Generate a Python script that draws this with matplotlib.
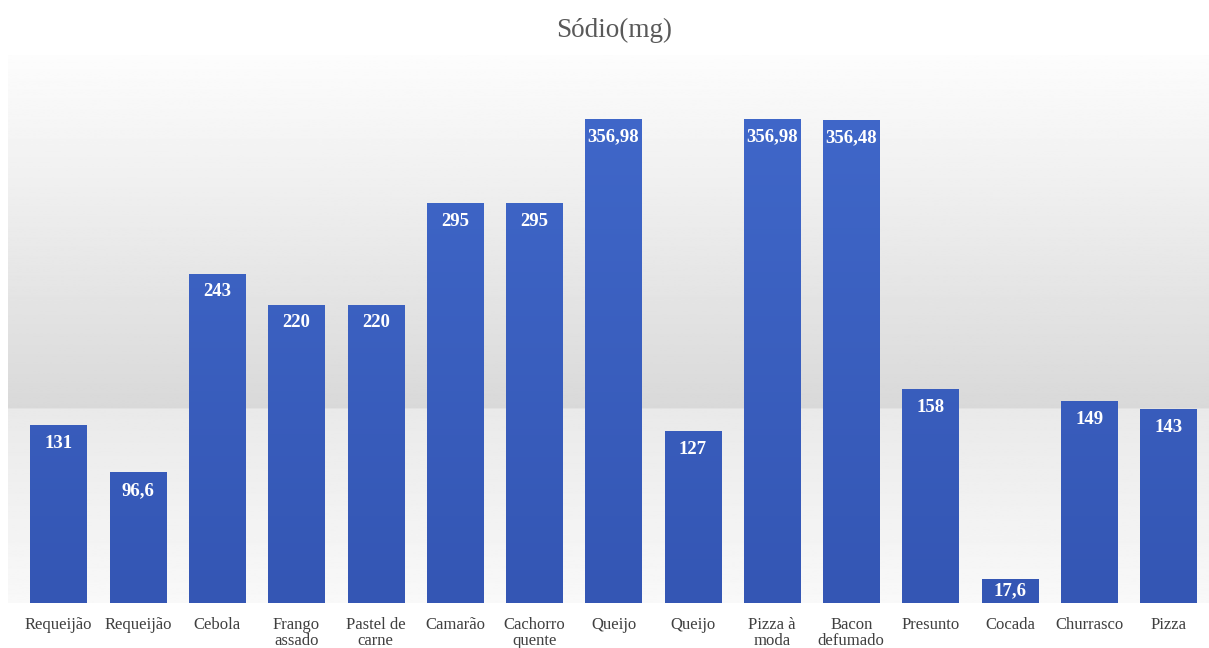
import numpy as np
import matplotlib
matplotlib.use("Agg")
import matplotlib.pyplot as plt
from matplotlib.colors import LinearSegmentedColormap

# Sodium content per food (mg)
categories = ["Requeijão", "Requeijão", "Cebola", "Frango\nassado", "Pastel de\ncarne",
              "Camarão", "Cachorro\nquente", "Queijo", "Queijo", "Pizza à\nmoda",
              "Bacon\ndefumado", "Presunto", "Cocada", "Churrasco", "Pizza"]
values = [131, 96.6, 243, 220, 220, 295, 295, 356.98, 127, 356.98, 356.48, 158, 17.6, 149, 143]
labels = ["131", "96,6", "243", "220", "220", "295", "295", "356,98", "127", "356,98",
          "356,48", "158", "17,6", "149", "143"]

serif = ["Liberation Serif", "DejaVu Serif"]

fig = plt.figure(figsize=(12.09, 6.48), dpi=100)

# background panel with a grey vertical gradient
bg = fig.add_axes([8 / 1209, 45 / 648, 1 - 8 / 1209, 548 / 648])
bg.set_axis_off()
t = np.linspace(0, 1, 400)  # 0 = bottom, 1 = top
split = 195 / 548
grey = np.where(t < split,
                0.975 - 0.06 * (t / split),
                0.85 + 0.14 * ((t - split) / (1 - split)))
grad = np.repeat(grey[:, None], 2, axis=1)
bg.imshow(grad, cmap="gray", vmin=0, vmax=1, aspect="auto", origin="lower",
          extent=[0, 1, 0, 1])
bg.set_xlim(0, 1)
bg.set_ylim(0, 1)

ax = fig.add_axes([19 / 1209, 45 / 648, 1189 / 1209, 543 / 648])
ax.patch.set_alpha(0)
x = np.arange(len(values))
bars = ax.bar(x, values, width=0.71, color="#3a60c0", zorder=2)

# vertical gradient on each bar
bar_cmap = LinearSegmentedColormap.from_list("barblue", ["#3456b4", "#4169cb"])
for b in bars:
    x0, y0 = b.get_x(), b.get_y()
    w, h = b.get_width(), b.get_height()
    im = ax.imshow(np.linspace(0, 1, 100)[:, None], cmap=bar_cmap, aspect="auto",
                   origin="lower", extent=[x0, x0 + w, 0, 400], zorder=3)
    im.set_clip_path(b)

for xi, v, lab in zip(x, values, labels):
    if v < 30:
        # short bar: centre the label inside it
        ax.text(xi, v / 2, lab, ha="center", va="center", color="white",
                fontweight="bold", fontsize=13.5, family=serif, zorder=4)
    else:
        ax.annotate(lab, (xi, v), xytext=(0, -7), textcoords="offset points",
                    ha="center", va="top", color="white", fontweight="bold",
                    fontsize=13.5, family=serif, zorder=4)

ax.set_xlim(-0.5, len(values) - 0.5)
ax.set_ylim(0, 400.5)
ax.set_xticks(x)
ax.set_xticklabels(categories, family=serif, fontsize=12, color="#404040",
                   linespacing=1.05)
ax.tick_params(axis="x", length=0, pad=10)
ax.set_yticks([])
for s in ax.spines.values():
    s.set_visible(False)

fig.text(0.508, 0.953, "Sódio(mg)", ha="center", va="center", fontsize=19.5,
         color="#595959", family=serif)

fig.savefig("out.png", dpi=100)
